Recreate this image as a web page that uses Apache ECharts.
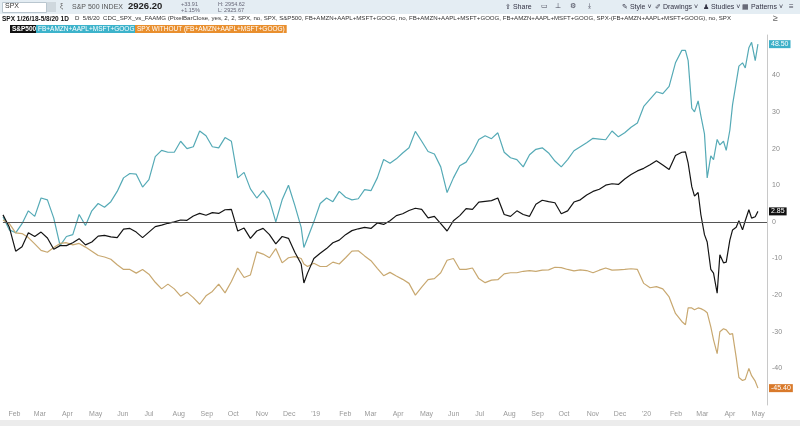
<!DOCTYPE html>
<html><head><meta charset="utf-8">
<script src="https://cdn.jsdelivr.net/npm/echarts@6/dist/echarts.min.js"></script>
<style>html,body{margin:0;padding:0;background:#fff}#c{width:800px;height:430px}</style>
</head><body><div id="c"></div>
<script>
// Dates (weekly closes, denser around the 2020 crash)
const dates = [
'2018-01-26','2018-02-02','2018-02-09','2018-02-16','2018-02-23','2018-03-02','2018-03-09','2018-03-16','2018-03-23','2018-03-30',
'2018-04-06','2018-04-13','2018-04-20','2018-04-27','2018-05-04','2018-05-11','2018-05-18','2018-05-25','2018-06-01','2018-06-08',
'2018-06-15','2018-06-22','2018-06-29','2018-07-06','2018-07-13','2018-07-20','2018-07-27','2018-08-03','2018-08-10','2018-08-17',
'2018-08-24','2018-08-31','2018-09-07','2018-09-14','2018-09-21','2018-09-28','2018-10-05','2018-10-12','2018-10-19','2018-10-26',
'2018-11-02','2018-11-09','2018-11-16','2018-11-23','2018-11-30','2018-12-07','2018-12-14','2018-12-21','2018-12-24','2018-12-28',
'2019-01-04','2019-01-11','2019-01-18','2019-01-25','2019-02-01','2019-02-08','2019-02-15','2019-02-22','2019-03-01','2019-03-08',
'2019-03-15','2019-03-22','2019-03-29','2019-04-05','2019-04-12','2019-04-19','2019-04-26','2019-05-03','2019-05-10','2019-05-17',
'2019-05-24','2019-05-31','2019-06-07','2019-06-14','2019-06-21','2019-06-28','2019-07-05','2019-07-12','2019-07-19','2019-07-26',
'2019-08-02','2019-08-09','2019-08-16','2019-08-23','2019-08-30','2019-09-06','2019-09-13','2019-09-20','2019-09-27','2019-10-04',
'2019-10-11','2019-10-18','2019-10-25','2019-11-01','2019-11-08','2019-11-15','2019-11-22','2019-11-29','2019-12-06','2019-12-13',
'2019-12-20','2019-12-27','2020-01-03','2020-01-10','2020-01-17','2020-01-24','2020-01-31','2020-02-07','2020-02-14','2020-02-18',
'2020-02-21','2020-02-25','2020-02-28','2020-03-03','2020-03-06','2020-03-10','2020-03-13','2020-03-17','2020-03-20','2020-03-24',
'2020-03-27','2020-03-31','2020-04-03','2020-04-07','2020-04-10','2020-04-14','2020-04-17','2020-04-21','2020-04-24','2020-04-28',
'2020-05-01','2020-05-05','2020-05-08'];

// S&P500 % change
const spx = [
1.9,-1.5,-8,-6.8,-3,-4,-2.8,-4.4,-7.5,-6.5,
-6.5,-5.7,-4.6,-6.3,-5.5,-3.9,-3.7,-4.1,-4.3,-2,
-1.8,-2.8,-4.3,-2.8,-1.3,-0.9,-0.4,0,0.5,0.4,
1.6,2.3,1.8,2.5,2.3,3.3,3.4,-2.5,-1.7,-4.5,
-2.5,-1.8,-3.5,-6,-4,-4.5,-8.3,-11.5,-16.7,-14,
-10,-8.6,-7.3,-5.7,-5,-3.5,-2.4,-1.9,-1.5,-1.8,
-0.3,-0.7,0.3,1.7,2.2,3.1,3.7,3.4,1.1,1.5,
-0.5,-2.5,0.3,1.7,3.6,3.4,5.4,5.6,5.8,6.5,
2,1.5,3,2,1.5,4.8,5.9,5.5,5.2,2.2,
3,5.4,6,7.3,8.3,8.9,10,10.4,10.2,11.7,
12.9,13.9,14.6,15.6,16.7,15.5,14.3,18.1,19,19.1,
16,9.6,7,8,2,-3.5,-5.5,-13,-14,-19.5,
-9,-11.2,-11,-5,-2.2,-1.5,0.3,-2.2,0.3,3.3,
1,1.4,2.85];

// FB+AMZN+AAPL+MSFT+GOOG % change
const faamg = [
1.4,-2.2,-3,-0.5,3,1.5,6.5,6,1,-6.5,
-4,-3.5,2,-1,3,5,4,5.5,8.3,12,
13.2,13,9.5,11.5,17.8,19.5,19,19,22,20,
20.5,24.8,23.5,20.5,20.2,23,22,12,13.5,9,
6.5,8.5,6,0,6,10,4.5,-1.5,-7,-4.5,
0,5,6.5,5.5,8.3,6.7,6,6.3,8.8,8.5,
12,17,16,17.2,18.8,20.2,24.7,22,19.2,18.5,
15,8,12,15.3,16.3,19,22.5,23.5,22.7,24.3,
19,17.5,17,15,18.3,19.8,20.2,18.8,16.6,15,
17,19.4,20.5,21.6,22.8,22.6,22.4,24.8,23.2,24.3,
25.8,27,31.5,33.5,35.5,35,37,43.4,46.8,46.8,
44,31,30,33,29,24,12,18,17,22.5,
21,22,19.5,25,32,38,42.5,43.4,42,47.5,
49,44,48.5];

// SPX without (FB+AMZN+AAPL+MSFT+GOOG) % change
const exFaamg = [
0.5,-0.5,-3,-3.2,-4.3,-6,-7.8,-8.3,-7,-5.9,
-5.7,-6.3,-5.9,-6.9,-8,-9.2,-9.6,-10.2,-11.7,-13,
-13,-14,-13,-14.3,-16.5,-18.3,-17,-18.3,-20.3,-19.2,
-20.7,-22.5,-20.2,-19,-17,-19.4,-16.3,-12.6,-15.2,-14.5,
-8.2,-8.8,-9.8,-7.3,-11.2,-9.8,-9.5,-10,-11.5,-12.2,
-11.3,-12.2,-12.2,-11,-11.5,-9.8,-8,-7.9,-9.3,-10.6,
-12.7,-14.7,-13.8,-14.8,-15.7,-16.8,-20,-17.8,-15.8,-15.5,
-13.9,-10.5,-10,-13,-13,-12.6,-15.5,-16.6,-15.9,-15.8,
-14.2,-13.9,-13.9,-13.5,-13.3,-13.5,-13.2,-13.1,-12.4,-12.5,
-13,-13.4,-13.1,-13.3,-13.9,-13.2,-12.6,-13.2,-13.1,-13,
-12.8,-13,-16.8,-18,-17.7,-18.3,-20.5,-25,-27.2,-28.1,
-23.5,-23.5,-24,-23.5,-23.7,-24.2,-24.8,-28.7,-32.2,-36,
-30,-29.2,-29.5,-30.7,-30.5,-37,-42.5,-43.3,-43,-40,
-42,-43.5,-45.4];

const seriesNames = ['S&P500', 'FB+AMZN+AAPL+MSFT+GOOG', 'SPX WITHOUT (FB+AMZN+AAPL+MSFT+GOOG)'];
const monthNames = ['Jan','Feb','Mar','Apr','May','Jun','Jul','Aug','Sep','Oct','Nov','Dec'];
const axisEnd = '2020-05-18';

const FONT = '"Liberation Sans", Arial, sans-serif';
const COL_SPX = '#141414', COL_FA = '#55aab6', COL_EX = '#c8a870';

function pairs(vals){ return vals.map((v,i)=>[dates[i], v]); }

const chart = echarts.init(document.getElementById('c'), null, {renderer:'canvas'});
const txt = (left, top, text, size, color, weight, extra) => ({
  type:'text', left:left, top:top,
  style:Object.assign({text:text, fontSize:size, fill:color, fontWeight:weight||'normal', fontFamily:FONT}, extra||{})
});

const option = {
  animation:false,
  backgroundColor:'#fff',
  grid:{left:3, right:33, top:35, bottom:25},
  xAxis:{
    type:'time', min:'2018-01-26', max:axisEnd, splitNumber:30,
    maxInterval: 31*86400000,
    axisLine:{show:true, lineStyle:{color:'#d4d4d4'}},
    axisTick:{show:false}, splitLine:{show:false},
    axisLabel:{color:'#999', fontSize:7, fontFamily:FONT, align:'left', margin:6,
      showMinLabel:false, showMaxLabel:false, hideOverlap:false,
      formatter:function(v){ const d=new Date(v); if(d.getDate()!==1) return '';
        return d.getMonth()===0 ? "'"+String(d.getFullYear()).slice(2) : monthNames[d.getMonth()]; }}
  },
  yAxis:{
    type:'value', position:'right', min:-50, max:51, interval:10,
    axisLine:{show:true, lineStyle:{color:'#c8c8c8'}},
    axisTick:{show:false}, splitLine:{show:false},
    axisLabel:{color:'#8a8a8a', fontSize:7, fontFamily:FONT, margin:5, align:'left',
      formatter:function(v){ return (v%10===0 && Math.abs(v)<50) ? String(v) : ''; }}
  },
  series:[
    {name:seriesNames[1], type:'line', data:pairs(faamg), showSymbol:false, symbol:'none',
     lineStyle:{color:COL_FA, width:1.2}, itemStyle:{color:COL_FA}},
    {name:seriesNames[2], type:'line', data:pairs(exFaamg), showSymbol:false, symbol:'none',
     lineStyle:{color:COL_EX, width:1.2}, itemStyle:{color:COL_EX}},
    {name:seriesNames[0], type:'line', data:pairs(spx), showSymbol:false, symbol:'none', z:3,
     lineStyle:{color:COL_SPX, width:1.2}, itemStyle:{color:COL_SPX},
     markLine:{silent:true, symbol:'none', animation:false,
       data:[{yAxis:0, lineStyle:{color:'#555', width:1, type:'solid'}, label:{show:false}}]}}
  ]
};
chart.setOption(option);

const header = [
  {type:'rect', left:0, top:0, shape:{width:800, height:14}, style:{fill:'#e4edf3'}},
  {type:'rect', left:2, top:2, shape:{width:44, height:10}, style:{fill:'#fff', stroke:'#b9c6cf', lineWidth:1}},
  txt(5, 3, 'SPX', 7, '#333'),
  {type:'rect', left:47, top:2, shape:{width:9, height:10}, style:{fill:'#cfd8de'}},
  txt(60, 3, 'ξ', 7, '#666'),
  txt(72, 3.5, 'S&P 500 INDEX', 7, '#555'),
  txt(128, 1.5, '2926.20', 9.5, '#222', 'bold'),
  txt(181, 1, '+33.91', 5.5, '#667'),
  txt(181, 7.5, '+1.15%', 5.5, '#667'),
  txt(218, 1, 'H: 2954.62', 5.5, '#667'),
  txt(218, 7.5, 'L: 2925.67', 5.5, '#667'),
  txt(505, 3.5, '⇪ Share', 7, '#334'),
  txt(541, 3, '▭', 7, '#445'),
  txt(555, 3, '⊥', 7, '#445'),
  txt(570, 3, '⚙', 7, '#445'),
  txt(588, 3, '⤓', 7, '#445'),
  txt(622, 3.5, '✎ Style ˅', 7, '#334'),
  txt(655, 3.5, '✐ Drawings ˅', 7, '#334'),
  txt(703, 3.5, '♟ Studies ˅', 7, '#334'),
  txt(742, 3.5, '▦ Patterns ˅', 7, '#334'),
  txt(789, 3, '≡', 8, '#445'),
  txt(2, 15.5, 'SPX 1/26/18-5/8/20 1D', 6.5, '#111', 'bold'),
  txt(75, 15.7, 'D  5/8/20  CDC_SPX_vs_FAAMG (PixelBarClose, yes, 2, 2, SPX, no, SPX, S&P500, FB+AMZN+AAPL+MSFT+GOOG, no, FB+AMZN+AAPL+MSFT+GOOG, FB+AMZN+AAPL+MSFT+GOOG, SPX-(FB+AMZN+AAPL+MSFT+GOOG), no, SPX', 6.1, '#333'),
  txt(773, 14, '≥', 9, '#666'),
  txt(10, 25, seriesNames[0], 6.5, '#fff', 'bold', {backgroundColor:'#111', padding:[1,2,0,2]}),
  txt(36, 25, seriesNames[1], 6.5, '#fff', 'normal', {backgroundColor:'#3db3cb', padding:[1,2,0,2]}),
  txt(135, 25, seriesNames[2], 6.5, '#fff', 'normal', {backgroundColor:'#e98f2e', padding:[1,2,0,2]}),
  {type:'rect', left:0, top:420, shape:{width:800, height:6}, style:{fill:'#ececec'}}
];

// last-value badges on the right axis, positioned through the y scale
const axisX = chart.convertToPixel({xAxisIndex:0}, axisEnd);
function badge(vals, bg){
  const last = vals[vals.length-1];
  const y = chart.convertToPixel({yAxisIndex:0}, last);
  return {type:'text', x:axisX+2, y:y, z:10,
    style:{text:last.toFixed(2), fill:'#fff', backgroundColor:bg, padding:[1,2,0,2],
           fontSize:7, fontFamily:FONT, verticalAlign:'middle'}};
}
chart.setOption({graphic: header.concat([
  badge(faamg, '#3db0c8'), badge(spx, '#111'), badge(exFaamg, '#d97a2b')
])});
</script></body></html>
